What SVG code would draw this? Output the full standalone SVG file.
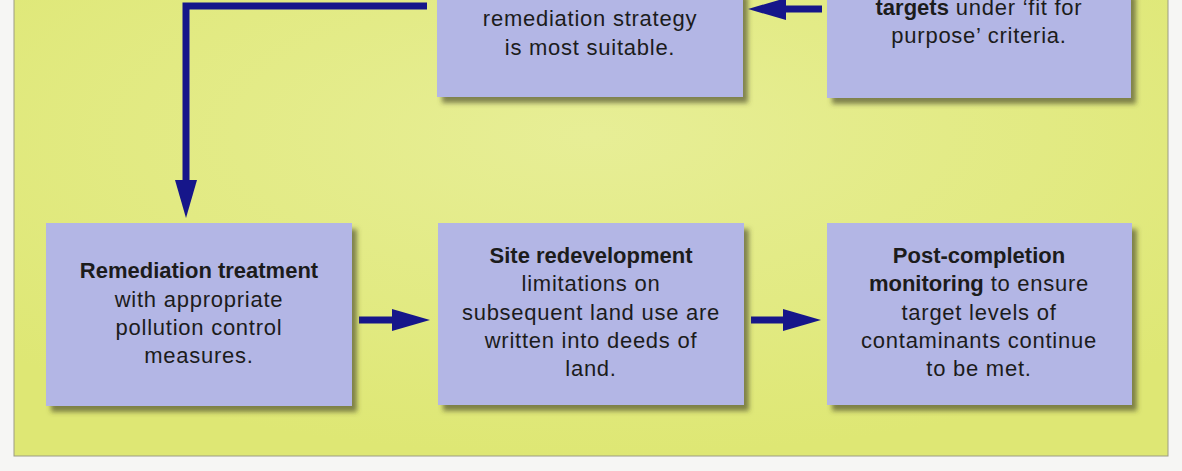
<svg xmlns="http://www.w3.org/2000/svg" width="1182" height="471" viewBox="0 0 1182 471">
<defs>
<radialGradient id="bg" cx="0.5" cy="0.3" r="0.7">
<stop offset="0" stop-color="#e7ee96"/>
<stop offset="1" stop-color="#dee774"/>
</radialGradient>
<filter id="sh" x="-10%" y="-10%" width="125%" height="130%">
<feDropShadow dx="5" dy="6" stdDeviation="2.5" flood-color="#48482a" flood-opacity="0.65"/>
</filter>
<marker id="ah" markerUnits="userSpaceOnUse" markerWidth="38" markerHeight="22" refX="0" refY="11" orient="auto" overflow="visible">
<path d="M0,0 L38,11 L0,22 z" fill="#16168a"/>
</marker>
</defs>
<style>
.box{fill:#b3b6e5;filter:url(#sh)}
.t{font-family:"Liberation Sans",Arial,sans-serif;font-size:22px;fill:#1c1c1c;text-anchor:middle}
.r{letter-spacing:0.75px}
.b{font-weight:bold}
.c{fill:none;stroke:#16168a;stroke-width:7;marker-end:url(#ah)}
</style>
<rect x="0" y="0" width="1182" height="471" fill="#f6f6f4"/>
<rect x="14" y="-2" width="1154" height="458" fill="url(#bg)" stroke="#9c9c84" stroke-width="1"/>
<g id="connectors">
<path class="c" d="M427,6 H186 V180"/>
<path class="c" d="M822,9 H786"/>
<path class="c" d="M359,320 H392"/>
<path class="c" d="M751,320 H783"/>
</g>
<g id="node-strategy">
<rect class="box" x="437" y="-10" width="306" height="107"/>
<text class="t r" x="590" y="26">remediation strategy</text>
<text class="t r" x="590" y="54.5">is most suitable.</text>
</g>
<g id="node-targets">
<rect class="box" x="827" y="-10" width="304" height="108"/>
<text class="t" x="979" y="15"><tspan class="b">targets</tspan><tspan class="r"> under ‘fit for</tspan></text>
<text class="t r" x="979" y="42.5">purpose’ criteria.</text>
</g>
<g id="node-treatment">
<rect class="box" x="46" y="223" width="306" height="183"/>
<text class="t b" x="199" y="278">Remediation treatment</text>
<text class="t r" x="199" y="306.5">with appropriate</text>
<text class="t r" x="199" y="335">pollution control</text>
<text class="t r" x="199" y="363">measures.</text>
</g>
<g id="node-redevelopment">
<rect class="box" x="438" y="223" width="306" height="182"/>
<text class="t b" x="591" y="263">Site redevelopment</text>
<text class="t r" x="591" y="291">limitations on</text>
<text class="t r" x="591" y="319.5">subsequent land use are</text>
<text class="t r" x="591" y="347.5">written into deeds of</text>
<text class="t r" x="591" y="375.5">land.</text>
</g>
<g id="node-monitoring">
<rect class="box" x="827" y="223" width="305" height="182"/>
<text class="t b" x="979" y="263">Post-completion</text>
<text class="t" x="979" y="291"><tspan class="b">monitoring</tspan><tspan class="r"> to ensure</tspan></text>
<text class="t r" x="979" y="319.5">target levels of</text>
<text class="t r" x="979" y="347.5">contaminants continue</text>
<text class="t r" x="979" y="375.5">to be met.</text>
</g>
</svg>
